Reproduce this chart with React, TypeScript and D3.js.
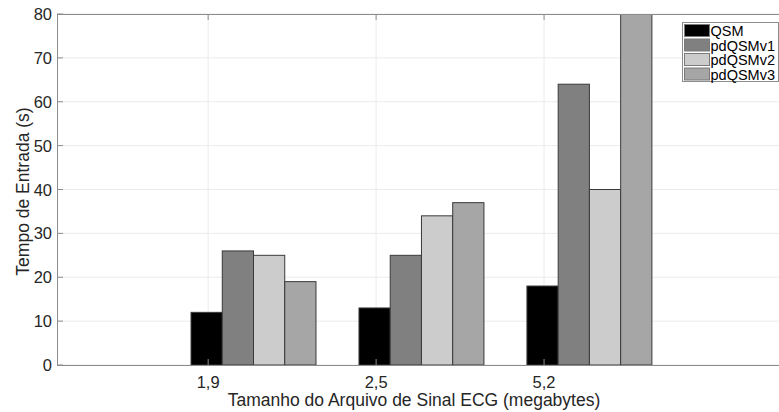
import React, { useEffect, useRef } from 'react';
import * as d3 from 'd3';

const categories = ['1,9', '2,5', '5,2'];
const seriesNames = ['QSM', 'pdQSMv1', 'pdQSMv2', 'pdQSMv3'];
const qsm = [12, 13, 18];
const pdQSMv1 = [26, 25, 64];
const pdQSMv2 = [25, 34, 40];
const pdQSMv3 = [19, 37, 80];
const yTicks = [0, 10, 20, 30, 40, 50, 60, 70, 80];

const colors = ['#000000', '#808080', '#cccccc', '#a6a6a6'];

const W = 779;
const H = 412;

const App = () => {
    const ref = useRef<SVGSVGElement>(null);

    useEffect(() => {
        const svg = d3.select(ref.current);
        svg.selectAll('*').remove();

        const left = 57, right = 796, top = 14, bottom = 365;
        const font = 'Arial, "Liberation Sans", Helvetica, sans-serif';
        const series = [qsm, pdQSMv1, pdQSMv2, pdQSMv3];

        const x = d3.scaleLinear().domain([0.1, 4.5]).range([left, right]);
        const y = d3.scaleLinear().domain([0, 80]).range([bottom, top]);

        // bar geometry in data units
        const barW = 0.186;
        const firstOffset = -0.009;

        const clip = svg.append('defs').append('clipPath').attr('id', 'plotclip');
        clip.append('rect').attr('x', left).attr('y', top).attr('width', right - left).attr('height', bottom - top);

        // grid
        svg.append('g').selectAll('line').data(yTicks).enter().append('line')
            .attr('x1', left).attr('x2', right)
            .attr('y1', d => y(d)).attr('y2', d => y(d))
            .attr('stroke', '#ebebeb').attr('stroke-width', 1);
        svg.append('g').selectAll('line').data(categories).enter().append('line')
            .attr('x1', (d, i) => x(i + 1)).attr('x2', (d, i) => x(i + 1))
            .attr('y1', top).attr('y2', bottom)
            .attr('stroke', '#ebebeb').attr('stroke-width', 1);

        // bars
        const bars = svg.append('g').attr('clip-path', 'url(#plotclip)');
        series.forEach((vals, s) => {
            bars.selectAll('.b' + s).data(vals).enter().append('rect')
                .attr('class', 'b' + s)
                .attr('x', (d, i) => x(i + 1 + firstOffset + (s - 0.5) * barW))
                .attr('width', x(barW) - x(0))
                .attr('y', d => y(d))
                .attr('height', d => y(0) - y(d))
                .attr('fill', colors[s])
                .attr('stroke', '#3a3a3a')
                .attr('stroke-width', 1);
        });

        // axes
        const axisColor = '#8c8c8c';
        svg.append('line').attr('x1', left).attr('x2', right).attr('y1', bottom + 0.5).attr('y2', bottom + 0.5)
            .attr('stroke', axisColor);
        svg.append('line').attr('x1', left).attr('x2', right).attr('y1', top + 0.5).attr('y2', top + 0.5)
            .attr('stroke', axisColor);
        svg.append('line').attr('x1', left + 0.5).attr('x2', left + 0.5).attr('y1', top).attr('y2', bottom + 0.5)
            .attr('stroke', axisColor);

        // tick marks (inside)
        yTicks.forEach(t => {
            svg.append('line').attr('x1', left).attr('x2', left + 6).attr('y1', y(t)).attr('y2', y(t))
                .attr('stroke', axisColor);
        });
        categories.forEach((c, i) => {
            svg.append('line').attr('x1', x(i + 1)).attr('x2', x(i + 1)).attr('y1', bottom).attr('y2', bottom - 6)
                .attr('stroke', axisColor);
            svg.append('line').attr('x1', x(i + 1)).attr('x2', x(i + 1)).attr('y1', top).attr('y2', top + 6)
                .attr('stroke', axisColor);
        });

        // tick labels
        svg.append('g').selectAll('text').data(yTicks).enter().append('text')
            .attr('x', left - 5).attr('y', d => y(d) + 6)
            .attr('text-anchor', 'end')
            .attr('font-family', font).attr('font-size', 16.5)
            .attr('fill', '#262626')
            .text(d => d);
        svg.append('g').selectAll('text').data(categories).enter().append('text')
            .attr('x', (d, i) => x(i + 1)).attr('y', 388)
            .attr('text-anchor', 'middle')
            .attr('font-family', font).attr('font-size', 16.5)
            .attr('fill', '#262626')
            .text(d => d);

        // axis titles
        svg.append('text')
            .attr('x', 414).attr('y', 406)
            .attr('text-anchor', 'middle')
            .attr('font-family', font).attr('font-size', 17.5)
            .attr('fill', '#262626')
            .text('Tamanho do Arquivo de Sinal ECG (megabytes)');
        svg.append('text')
            .attr('transform', `translate(29, ${(top + bottom) / 2 + 2}) rotate(-90)`)
            .attr('text-anchor', 'middle')
            .attr('font-family', font).attr('font-size', 17.5)
            .attr('fill', '#262626')
            .text('Tempo de Entrada (s)');

        // legend
        const lg = svg.append('g').attr('transform', 'translate(682, 22)');
        lg.append('rect').attr('x', 0.5).attr('y', 0.5).attr('width', 96).attr('height', 59)
            .attr('fill', '#ffffff').attr('stroke', '#8c8c8c');
        seriesNames.forEach((name, i) => {
            lg.append('rect').attr('x', 2.5).attr('y', 2.5 + i * 14.5).attr('width', 25).attr('height', 12)
                .attr('fill', colors[i]).attr('stroke', '#7a7a7a');
            lg.append('text').attr('x', 28.5).attr('y', 14 + i * 14.5)
                .attr('font-family', font).attr('font-size', 14.5)
                .attr('fill', '#000000')
                .text(name);
        });
    }, []);

    return (
        <svg ref={ref} width={W} height={H} style={{ position: 'absolute', left: 0, top: 0, background: '#fff' }}></svg>
    );
};

export default App;
